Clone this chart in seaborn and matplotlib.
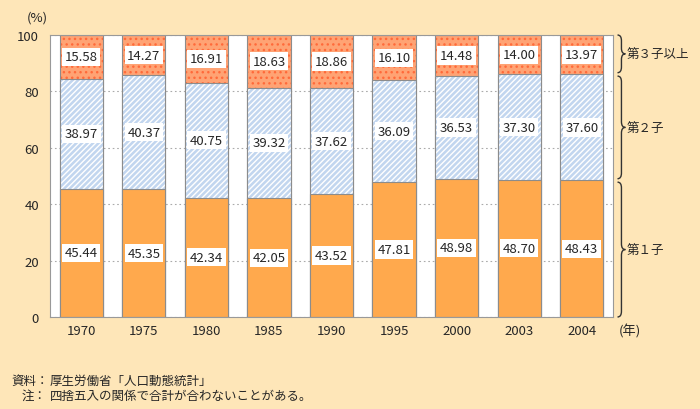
import numpy as np
import pandas as pd
import matplotlib
matplotlib.use("Agg")
import matplotlib.pyplot as plt
from matplotlib.path import Path
from matplotlib.patches import PathPatch
import matplotlib.transforms as mtransforms
import seaborn as sns

years = ["1970", "1975", "1980", "1985", "1990", "1995", "2000", "2003", "2004"]
first = [45.44, 45.35, 42.34, 42.05, 43.52, 47.81, 48.98, 48.70, 48.43]
second = [38.97, 40.37, 40.75, 39.32, 37.62, 36.09, 36.53, 37.30, 37.60]
third = [15.58, 14.27, 16.91, 18.63, 18.86, 16.10, 14.48, 14.00, 13.97]
groups = ["第１子", "第２子", "第３子以上"]

sns.set_style("white")
plt.rcParams["font.family"] = ["Noto Sans CJK JP", "DejaVu Sans"]
plt.rcParams["hatch.linewidth"] = 1.0

bg = "#FEE6B8"
df = pd.DataFrame({"year": years, "first": first, "second": second, "third": third})
df["cum1"] = df["first"]
df["cum2"] = df["first"] + df["second"]
df["cum3"] = df["cum2"] + df["third"]

fig = plt.figure(figsize=(7, 4.1), dpi=100, facecolor=bg)
ax = fig.add_axes([50 / 700, 1 - 318 / 410, 563 / 700, 282 / 410])
ax.set_facecolor("white")

width = 0.69
layers = [
    ("cum3", "#FFA374", "#FF6A3A", "..."),
    ("cum2", "#C2D6EF", "white", "//////"),
    ("cum1", "#FFA94D", "#FFA94D", None),
]
for col, face, hcol, hatch in layers:
    sns.barplot(data=df, x="year", y=col, color=face, saturation=1, width=width,
                errorbar=None, edgecolor=hcol, linewidth=0, hatch=hatch, ax=ax)
    sns.barplot(data=df, x="year", y=col, color="#8c8c8c", fill=False, width=width,
                errorbar=None, linewidth=0.8, ax=ax)

# value labels
for i in range(len(years)):
    for lo, val in [(0, first[i]), (df["cum1"][i], second[i]), (df["cum2"][i], third[i])]:
        ax.text(i, lo + val / 2, f"{val:.2f}", ha="center", va="center", fontsize=9.5,
                bbox=dict(boxstyle="square,pad=0.2", fc="white", ec="none"))

ax.set_ylim(0, 100)
ax.set_xlim(-0.5, len(years) - 0.5)
ax.set_yticks([0, 20, 40, 60, 80, 100])
ax.yaxis.grid(True, linestyle=(0, (1.5, 2.5)), color="#aaaaaa", linewidth=0.8)
ax.set_axisbelow(True)
ax.tick_params(axis="y", length=0, labelsize=9.5, pad=8)
ax.tick_params(axis="x", length=0, labelsize=9.5, pad=5)
ax.set_xticks(np.arange(len(years)) + 0.5, minor=True)
ax.tick_params(axis="x", which="minor", direction="in", length=4, color="#888888")
ax.set_xlabel("")
ax.set_ylabel("")
for s in ax.spines.values():
    s.set_color("#999999")
    s.set_linewidth(0.8)

fig.text(37 / 700, 1 - 18 / 410, "(%)", ha="center", va="center", fontsize=9.5)
fig.text(630 / 700, 1 - 331 / 410, "(年)", ha="center", va="center", fontsize=9.5)

# braces on the right
trans = mtransforms.blended_transform_factory(ax.transAxes, ax.transData)


def brace(y0, y1, label):
    x0, w = 1.008, 0.007
    ym = (y0 + y1) / 2
    r = min(2.0, (y1 - y0) / 6)
    verts = [(x0, y1), (x0 + w, y1), (x0 + w, y1 - r),
             (x0 + w, ym + r),
             (x0 + w, ym), (x0 + 2 * w, ym),
             (x0 + w, ym), (x0 + w, ym - r),
             (x0 + w, y0 + r),
             (x0 + w, y0), (x0, y0)]
    codes = [Path.MOVETO, Path.CURVE3, Path.CURVE3, Path.LINETO,
             Path.CURVE3, Path.CURVE3, Path.CURVE3, Path.CURVE3,
             Path.LINETO, Path.CURVE3, Path.CURVE3]
    ax.add_patch(PathPatch(Path(verts, codes), transform=trans, fc="none",
                           ec="#333333", lw=1.0, clip_on=False))
    ax.text(x0 + 2 * w + 0.003, ym, label, transform=trans, ha="left", va="center", fontsize=9)


last1 = df["cum1"].iloc[-1]
last2 = df["cum2"].iloc[-1]
brace(0, last1 - 0.6, groups[0])
brace(last1 + 0.6, last2 - 0.6, groups[1])
brace(last2 + 0.6, 100, groups[2])

fig.text(11 / 700, 1 - 381 / 410, "資料：", ha="left", va="center", fontsize=9)
fig.text(50 / 700, 1 - 381 / 410, "厚生労働省「人口動態統計」", ha="left", va="center", fontsize=9)
fig.text(22 / 700, 1 - 396 / 410, "注：", ha="left", va="center", fontsize=9)
fig.text(50 / 700, 1 - 396 / 410, "四捨五入の関係で合計が合わないことがある。", ha="left", va="center", fontsize=9)

fig.savefig("out.png", dpi=100, facecolor=bg)
